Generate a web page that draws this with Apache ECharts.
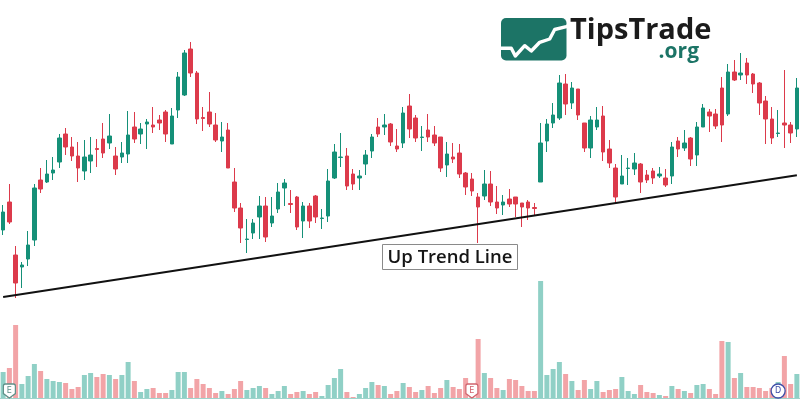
<!DOCTYPE html>
<html>
<head>
<meta charset="utf-8">
<script src="https://cdn.jsdelivr.net/npm/echarts@6/dist/echarts.min.js"></script>
<style>
html,body{margin:0;padding:0;background:#fff;}
#chart{width:800px;height:400px;}
</style>
</head>
<body>
<div id="chart"></div>
<script>
// ---- data (price units, higher = higher on chart) ----
var opens = [170,198,145,133,141,160,220,218,227,238,266,253,244,229,239,251.5,261,257,244,243,246,273,266,276,275,280,288,256,290,305,351,327,282.5,288,275,259,270,218,192,160.5,167,183,194,177,191,212,196.5,203,179,194,204,181.5,184,222,242.5,244,226,222,236,249,273,273,276,254,257,294,282,262.5,270,265,263,235,243,247,227,221,203,204,216,198,195,201,203,197,198,192.5,218,259,277,282,316,297,311,277,252,273,284,251,232,216,231.5,231,236,225,229,224,222,224,259,252,262,245,273,288,286,312,286,328,325,337,326,317,299,281,266.5,277,275,271];
var closes = [188,178,117,135,155,212,211,226,230,262,253,244,232,243,245,250.5,247,264,231,247,265,261,271,278,273,277,266,284,323,347,327,281,281.5,276,260,263,232,192,172,161,177,194,163,184,208,217,195.5,173,194,179,183,182,219,248,243,214,216,224,245,263,266,275,258,251,287,271,262,263,263,257,232,246,241,226,213,209,193,216,198,192,198,196,196,193,192,191.5,257,276,285,317,296,312,285,252,280,280,248,237,203,224,232,237,218,220,222,226,215,253,251,257,241,273,292,284,274,275,328,320,327,325,316,297,281,262,267,275,267,312];
var lows = [165,176,102,112,134,154,207,217,220,232,245,239,218,220,227,233,242,251,225,237,237,257,256,251,267,270,258,256,282,304,323,276,269,273,258,248,232,188,157,147,161,161,158,173,187,194,187,170,162,172,177,171,178,221,233,210,210,210,225,242,263,265,254,248,252,262,258,249,258,254,228,223,237,222,205,204,157,200,194,186,185,193,183,173,180,185,218,248,272,280,285,291,280,248,242,270,239,232,197,216,215,225,207,217,216,222,213,216,243,249,234,234,273,268,271,258,284,319,320,316,307,285,256,256,263,252,257,263];
var highs = [195,216,154,138,169,216,232,240,243,266,272,263,258,260,263,261,277,286,253,258,289,288,277,281,293,285,290,292,328,350,358,329,293,308,287,278,277,232,197,181,181,204,203,203,217,221,210,204,198,197,205,191,231,256,267,252,231,230,250,266,282,286,277,271,293,306,285,274,286,274,263,258,257,256,228,227,207,230,229,214,205,211,203,197,200,197,277,281,297,325,326,318,311,277,284,293,294,260,236,245,242,247,237,230,232,233,231,258,263,270,263,278,296,291,291,323,336,340,347,342,327,318,304,293,290,330,278,322];
var volumes = [26,30,73,14,22,34,27,19,17,16,15,9,11,23,25,21,24,23,19,23,36,17,6,9,10,5,5,8,26,26,10,19,14,10,5,7,4,9,17,8,10,12,10,4,7,12,4,6,7,4,6,2,13,20,29,6,1,4,10,16,13,12,4,7,15,11,6,8,12,5,10,18,11,9,20,8,59,25,20,10,8,19,18,12,7,7,117,23,29,36,24,17,8,18,9,17,6,8,9,21,7,4,13,6,5,3,2,12,9,7,5,13,14,9,4,57,56,20,25,11,11,10,7,10,16,42,14,24];
var trendStart = [0, 103];
var trendEnd = [127, 224.7];
var badges = [{idx: 1, text: 'E', kind: 'shield', color: '#5e8f88'}, {idx: 75, text: 'E', kind: 'shield', color: '#d0646e'}, {idx: 124, text: 'D', kind: 'circle', color: '#3f4fa8'}];
var labelText = 'Up Trend Line';
var logoMain = 'TipsTrade';
var logoSub = '.org';

var GREEN = '#159078', RED = '#dc3a4b';
var VGREEN = '#90d0c6', VRED = '#f2a4a7';

var cats = opens.map(function(_, i){ return String(i); });
var candleData = opens.map(function(o, i){ return [o, closes[i], lows[i], highs[i]]; });
var volData = volumes.map(function(v, i){
  return {value: v, itemStyle: {color: closes[i] >= opens[i] ? VGREEN : VRED}};
});
var shieldPath = 'path://M2,0 L10,0 Q12,0 12,2 L12,9 L6,13 L0,9 L0,2 Q0,0 2,0 Z';
var badgePoints = badges.map(function(b){
  return {
    coord: [String(b.idx), 7],
    symbol: b.kind === 'circle' ? 'circle' : shieldPath,
    symbolSize: b.kind === 'circle' ? 14 : [12, 14],
    itemStyle: {color: '#fff', borderColor: b.color, borderWidth: 1.3},
    label: {show: true, formatter: b.text, color: b.color, fontSize: 8, fontFamily: 'DejaVu Sans', position: 'inside'}
  };
});

var chart = echarts.init(document.getElementById('chart'), null, {renderer: 'canvas'});
var gridLeft = -3.14, gridRight = -1.46;
chart.setOption({
  animation: false,
  backgroundColor: '#ffffff',
  grid: [
    {left: gridLeft, right: gridRight, top: 0, bottom: 0},
    {left: gridLeft, right: gridRight, top: 0, bottom: 2}
  ],
  xAxis: [
    {type: 'category', data: cats, gridIndex: 0, boundaryGap: true, show: false},
    {type: 'category', data: cats, gridIndex: 1, boundaryGap: true, show: true,
     axisLine: {show: true, lineStyle: {color: '#9fd3cb', width: 1}}, axisTick: {show: false}, axisLabel: {show: false}, splitLine: {show: false}}
  ],
  yAxis: [
    {type: 'value', min: 0, max: 400, gridIndex: 0, show: false},
    {type: 'value', min: 0, max: 398, gridIndex: 1, show: false}
  ],
  series: [
    {
      type: 'bar', xAxisIndex: 1, yAxisIndex: 1, data: volData, barWidth: 5, z: 1, silent: true,
      markPoint: {silent: true, data: badgePoints, z: 5}
    },
    {
      type: 'candlestick', xAxisIndex: 0, yAxisIndex: 0, data: candleData, barWidth: 4, z: 3, silent: true,
      itemStyle: {color: GREEN, color0: RED, borderColor: GREEN, borderColor0: RED, borderWidth: 1},
      markLine: {
        silent: true, symbol: ['none', 'none'], animation: false,
        label: {show: false},
        lineStyle: {color: '#111', width: 2, type: 'solid'},
        data: [[{coord: [String(trendStart[0]), trendStart[1]]}, {coord: [String(trendEnd[0]), trendEnd[1]]}]]
      }
    }
  ],
  graphic: [
    {type: 'rect', shape: {x: 382.5, y: 244.5, width: 135, height: 25}, style: {fill: '#fff', stroke: '#8a8a8a', lineWidth: 1}, z: 10},
    {type: 'text', x: 450, y: 257.5, style: {text: labelText, font: '600 18.5px "Open Sans"', fill: '#151515', textAlign: 'center', textVerticalAlign: 'middle'}, z: 11},
    {type: 'rect', shape: {x: 501, y: 18, width: 65.5, height: 42.5, r: 5}, style: {fill: '#1c7466'}, z: 10},
    {type: 'polyline', shape: {points: [[500, 48.3], [511.3, 48.3], [515.3, 56], [524.7, 45.7], [531.3, 51], [539.7, 42.3], [549.7, 39], [554.7, 29.5], [566.3, 26.7], [570, 24.5]]}, style: {stroke: '#fff', lineWidth: 3.4, fill: null, lineJoin: 'round'}, z: 11},
    {type: 'text', x: 570, y: 31, style: {text: logoMain, font: '700 29px "Open Sans"', fill: '#1b1b1b', textAlign: 'left', textVerticalAlign: 'middle'}, z: 11},
    {type: 'text', x: 699, y: 52, style: {text: logoSub, font: '700 21px "Open Sans"', fill: '#1c7466', textAlign: 'right', textVerticalAlign: 'middle'}, z: 11}
  ]
});
</script>
</body>
</html>
